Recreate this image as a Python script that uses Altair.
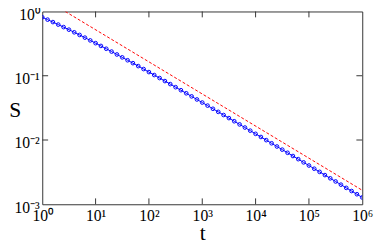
import altair as alt
import pandas as pd

# blue series: log10(t) exponents and log10(S)
t_exp = [round(k * 0.1, 1) for k in range(61)]
s_log = [-0.090, -0.127, -0.165, -0.204, -0.243, -0.283, -0.324, -0.365, -0.407, -0.450,
         -0.493, -0.536, -0.580, -0.624, -0.669, -0.714, -0.759, -0.804, -0.850, -0.896,
         -0.943, -0.989, -1.036, -1.083, -1.130, -1.178, -1.225, -1.273, -1.321, -1.369,
         -1.417, -1.465, -1.514, -1.562, -1.611, -1.659, -1.708, -1.757, -1.806, -1.855,
         -1.904, -1.953, -2.002, -2.051, -2.101, -2.150, -2.199, -2.249, -2.298, -2.348,
         -2.397, -2.447, -2.496, -2.546, -2.596, -2.645, -2.695, -2.745, -2.794, -2.844,
         -2.894]

# red dashed reference line endpoints
red_t = [2.7, 1000000.0]
red_s = [1.0, 0.00165]

# tick positions
x_ticks = [1, 10, 100, 1000, 10000, 100000, 1000000]
y_ticks = [0.001, 0.01, 0.1, 1]
x_inner = [10, 100, 1000, 10000, 100000]
y_inner = [0.01, 0.1]

blue = pd.DataFrame({"t": [10 ** e for e in t_exp], "S": [10 ** v for v in s_log]})
red = pd.DataFrame({"t": red_t, "S": red_s})
xt = pd.DataFrame({"t": x_inner})
yt = pd.DataFrame({"S": y_inner})

W, H = 327, 197
FONT = "Liberation Serif"

xscale = alt.Scale(type="log", domain=[1, 1000000], nice=False)
yscale = alt.Scale(type="log", domain=[0.001, 1], nice=False)

xaxis = alt.Axis(values=x_ticks, ticks=False, domain=False, grid=False,
                 labelExpr="'10' + ['⁰','¹','²','³','⁴','⁵','⁶'][round(log(datum.value)/LN10)]",
                 labelFont=FONT, labelFontSize=16, labelColor="black", labelPadding=4,
                 labelFlush=False, labelOverlap=False,
                 title="t", titleFont=FONT, titleFontSize=22, titleFontWeight="normal",
                 titleColor="black", titleY=36, titleBaseline="alphabetic")
yaxis = alt.Axis(values=y_ticks, ticks=False, domain=False, grid=False,
                 labelExpr="'10' + ['⁻³','⁻²','⁻¹','⁰'][round(log(datum.value)/LN10)+3]",
                 labelFont=FONT, labelFontSize=16, labelColor="black", labelPadding=3,
                 labelOffset=3, labelFlush=False, labelOverlap=False,
                 title="S", titleFont=FONT, titleFontSize=22, titleFontWeight="normal",
                 titleColor="black", titleAngle=0, titleX=-28, titleY=100,
                 titleAlign="center", titleBaseline="middle")

line = alt.Chart(blue).mark_line(color="#0000ff", strokeWidth=1, clip=True).encode(
    x=alt.X("t:Q", scale=xscale, axis=xaxis),
    y=alt.Y("S:Q", scale=yscale, axis=yaxis),
)
pts = alt.Chart(blue).mark_point(shape="circle", filled=False, size=14, strokeWidth=1,
                                 color="#0000ff", opacity=1, clip=True).encode(
    x=alt.X("t:Q", scale=xscale),
    y=alt.Y("S:Q", scale=yscale),
)
redline = alt.Chart(red).mark_line(color="#ff0000", strokeWidth=1, strokeDash=[3, 2],
                                   clip=True).encode(
    x=alt.X("t:Q", scale=xscale),
    y=alt.Y("S:Q", scale=yscale),
)

tick_col = "#333333"
bt = alt.Chart(xt).mark_rule(color=tick_col, strokeWidth=1).encode(
    x=alt.X("t:Q", scale=xscale), y=alt.value(H), y2=alt.value(H - 6))
tt = alt.Chart(xt).mark_rule(color=tick_col, strokeWidth=1).encode(
    x=alt.X("t:Q", scale=xscale), y=alt.value(0), y2=alt.value(6))
lt = alt.Chart(yt).mark_rule(color=tick_col, strokeWidth=1).encode(
    y=alt.Y("S:Q", scale=yscale), x=alt.value(0), x2=alt.value(6))
rt = alt.Chart(yt).mark_rule(color=tick_col, strokeWidth=1).encode(
    y=alt.Y("S:Q", scale=yscale), x=alt.value(W), x2=alt.value(W - 6))

chart = alt.layer(line, pts, redline, bt, tt, lt, rt).properties(
    width=W, height=H, autosize="none",
    padding={"left": 35, "top": 1, "right": 12, "bottom": 36},
    background="white",
).configure_view(stroke="#333333", strokeWidth=1)

chart.save("out.html", embed_options={"renderer": "svg", "actions": False})
